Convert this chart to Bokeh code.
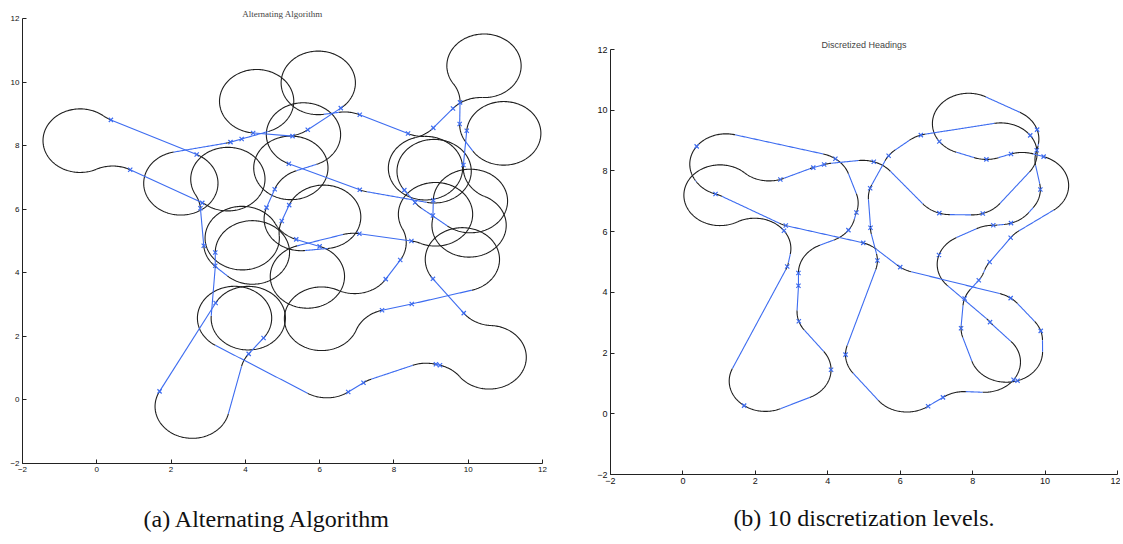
import math
import numpy as np
from bokeh.plotting import figure
from bokeh.layouts import row, column
from bokeh.models import FixedTicker, Spacer
from bokeh.embed import file_html
from bokeh.resources import INLINE

# ---------------- data: waypoint instance (shared by both panels) ----------------
wx = [0.38, 0.90, 2.84, 2.79, 2.88, 3.19, 3.19, 3.20, 1.69, 4.09,
      4.49, 6.77, 7.18, 9.13, 9.24, 9.88, 9.05, 8.48, 7.68, 7.78,
      8.17, 8.47, 7.07, 5.37, 6.00, 4.98, 5.18, 4.57, 4.79, 5.17,
      7.08, 8.28, 8.57, 9.06, 9.05, 9.87, 9.96, 9.77, 9.78, 9.59,
      9.06, 8.38, 7.08, 6.57, 5.68, 5.27, 4.21, 3.90, 3.60, 2.69]
wy = [8.81, 7.24, 6.20, 6.03, 4.85, 4.64, 4.22, 3.05, 0.27, 1.45,
      1.95, 0.25, 0.54, 1.12, 1.09, 2.73, 3.81, 3.02, 2.82, 3.80,
      4.40, 5.00, 5.23, 5.05, 4.83, 5.63, 6.13, 6.05, 6.63, 7.43,
      6.61, 6.60, 6.21, 6.28, 5.80, 7.39, 8.47, 8.68, 9.36, 9.17,
      8.56, 8.38, 8.97, 9.18, 8.50, 8.30, 8.40, 8.21, 8.11, 7.72]

# (a) tour order used by the alternating algorithm (odd edges are straight)
order_a = [0, 1, 2, 3, 4, 5, 6, 7, 8, 9, 10, 11, 12, 13, 14, 15, 16, 17, 18, 19,
           20, 21, 22, 24, 23, 25, 26, 27, 28, 29, 30, 31, 32, 33, 34, 35, 36, 37, 38, 39,
           40, 41, 42, 43, 44, 45, 46, 47, 48, 49]

# (b) tour order of the discretized-headings solution
order_b = [31, 30, 45, 47, 48, 49, 3, 4, 8, 9, 7, 6, 5, 27, 28, 46, 0, 1, 2, 25,
           24, 16, 15, 14, 18, 19, 20, 21, 34, 36, 40, 41, 42, 38, 37, 35, 33, 32, 22, 17,
           13, 12, 11, 10, 23, 26, 29, 44, 43, 39]
heading_step_deg = 18    # spacing of the candidate headings of panel (b)

turn_radius = 1.0
ticks = [-2, 0, 2, 4, 6, 8, 10, 12]

ARC_COLOR = "#1e1e1e"
LINE_COLOR = "#3d6cf0"

TWO_PI = 2 * math.pi


# ---------------- Dubins geometry ----------------
def mod2pi(a):
    return a % TWO_PI


def best_word(alpha, beta, d):
    sa, sb, ca, cb = math.sin(alpha), math.sin(beta), math.cos(alpha), math.cos(beta)
    c_ab = math.cos(alpha - beta)
    res = []
    p_sq = 2 + d * d - 2 * c_ab + 2 * d * (sa - sb)
    if p_sq >= 0:
        t1 = math.atan2(cb - ca, d + sa - sb)
        res.append(("LSL", mod2pi(t1 - alpha), math.sqrt(p_sq), mod2pi(beta - t1)))
    p_sq = 2 + d * d - 2 * c_ab + 2 * d * (sb - sa)
    if p_sq >= 0:
        t1 = math.atan2(ca - cb, d - sa + sb)
        res.append(("RSR", mod2pi(alpha - t1), math.sqrt(p_sq), mod2pi(t1 - beta)))
    p_sq = -2 + d * d + 2 * c_ab + 2 * d * (sa + sb)
    if p_sq >= 0:
        p = math.sqrt(p_sq)
        t0 = math.atan2(-ca - cb, d + sa + sb) - math.atan2(-2.0, p)
        res.append(("LSR", mod2pi(t0 - alpha), p, mod2pi(t0 - mod2pi(beta))))
    p_sq = -2 + d * d + 2 * c_ab - 2 * d * (sa + sb)
    if p_sq >= 0:
        p = math.sqrt(p_sq)
        t0 = math.atan2(ca + cb, d - sa - sb) - math.atan2(2.0, p)
        res.append(("RSL", mod2pi(alpha - t0), p, mod2pi(beta - t0)))
    tmp = (6. - d * d + 2 * c_ab + 2 * d * (sa - sb)) / 8.
    if abs(tmp) <= 1:
        phi = math.atan2(ca - cb, d - sa + sb)
        p = mod2pi(TWO_PI - math.acos(tmp))
        t = mod2pi(alpha - phi + mod2pi(p / 2.))
        res.append(("RLR", t, p, mod2pi(alpha - beta - t + mod2pi(p))))
    tmp = (6. - d * d + 2 * c_ab + 2 * d * (sb - sa)) / 8.
    if abs(tmp) <= 1:
        phi = math.atan2(ca - cb, d + sa - sb)
        p = mod2pi(TWO_PI - math.acos(tmp))
        t = mod2pi(-alpha - phi + p / 2.)
        res.append(("LRL", t, p, mod2pi(mod2pi(beta) - alpha - t + mod2pi(p))))
    return min(res, key=lambda w: w[1] + w[2] + w[3])


def normalize(q0, q1, r):
    dx, dy = q1[0] - q0[0], q1[1] - q0[1]
    d = math.hypot(dx, dy) / r
    theta = mod2pi(math.atan2(dy, dx))
    return mod2pi(q0[2] - theta), mod2pi(q1[2] - theta), d


def dubins_length(q0, q1, r):
    w = best_word(*normalize(q0, q1, r))
    return r * (w[1] + w[2] + w[3])


def dubins(q0, q1, r):
    word, t, p, q = best_word(*normalize(q0, q1, r))
    segs = []
    x, y, th = 0.0, 0.0, q0[2]
    for kind, L in zip(word, (t, p, q)):
        if L < 1e-9:
            continue
        n = max(2, int(np.ceil(L / 0.03)) + 1)
        s = np.linspace(0, L, n)
        if kind == "L":
            xs = x + np.sin(th + s) - np.sin(th)
            ys = y - np.cos(th + s) + np.cos(th)
            nth = th + L
        elif kind == "R":
            xs = x - np.sin(th - s) + np.sin(th)
            ys = y + np.cos(th - s) - np.cos(th)
            nth = th - L
        else:
            xs = x + np.cos(th) * s
            ys = y + np.sin(th) * s
            nth = th
        segs.append((kind, list(q0[0] + r * xs), list(q0[1] + r * ys)))
        x, y, th = float(xs[-1]), float(ys[-1]), nth
    return segs


def collect(segments):
    arcs_x, arcs_y, lin_x, lin_y = [], [], [], []
    for kind, xs, ys in segments:
        if kind == "S":
            lin_x.append(xs); lin_y.append(ys)
        else:
            arcs_x.append(xs); arcs_y.append(ys)
    return arcs_x, arcs_y, lin_x, lin_y


# ---- panel (a): alternating algorithm
n = len(order_a)
head_a = {}
for k in range(1, n, 2):
    a, b = order_a[k], order_a[(k + 1) % n]
    h = math.atan2(wy[b] - wy[a], wx[b] - wx[a])
    head_a[a] = h
    head_a[b] = h
segs_a = []
for k in range(n):
    a, b = order_a[k], order_a[(k + 1) % n]
    if k % 2 == 1:
        segs_a.append(("S", [wx[a], wx[b]], [wy[a], wy[b]]))
    else:
        segs_a += dubins((wx[a], wy[a], head_a[a]), (wx[b], wy[b], head_a[b]), turn_radius)

# ---- panel (b): headings chosen on a discrete grid (shortest closed tour, DP)
m = len(order_b)
n_cand = int(round(360 / heading_step_deg))
levels = [math.radians(heading_step_deg * i) for i in range(n_cand)]
cost = []
for k in range(m):
    a, b = order_b[k], order_b[(k + 1) % m]
    cost.append([[dubins_length((wx[a], wy[a], hi), (wx[b], wy[b], hj), turn_radius)
                  for hj in levels] for hi in levels])
best_total, best_seq = float("inf"), None
for i0 in range(n_cand):
    dp = [float("inf")] * n_cand
    dp[i0] = 0.0
    back = []
    for k in range(m):
        ck = cost[k]
        new, arg = [], []
        for j in range(n_cand):
            bv, bi = float("inf"), 0
            for i in range(n_cand):
                v = dp[i] + ck[i][j]
                if v < bv:
                    bv, bi = v, i
            new.append(bv); arg.append(bi)
        back.append(arg)
        dp = new
    if dp[i0] < best_total:
        hs = [0] * m
        hs[0] = i0
        j = i0
        for k in range(m - 1, 0, -1):
            j = back[k][j]          # heading level of node k
            hs[k] = j
        best_total, best_seq = dp[i0], hs

segs_b = []
for k in range(m):
    a, b = order_b[k], order_b[(k + 1) % m]
    ha, hb = levels[best_seq[k]], levels[best_seq[(k + 1) % m]]
    segs_b += dubins((wx[a], wy[a], ha), (wx[b], wy[b], hb), turn_radius)


def make_panel(segs, frame_w, frame_h, bl, br, bt, bb, tick_font, tick_size,
               top_title, top_font, top_size, cap_text, cap_standoff):
    p = figure(frame_width=frame_w, frame_height=frame_h, x_range=(-2, 12), y_range=(-2, 12),
               output_backend="svg", toolbar_location=None, title=top_title,
               min_border_left=bl, min_border_right=br, min_border_top=bt, min_border_bottom=bb)
    p.title.align = "center"
    p.title.text_font = top_font
    p.title.text_font_size = top_size
    p.title.text_font_style = "normal"
    p.title.standoff = 0
    for ax in (p.xaxis[0], p.yaxis[0]):
        ax.ticker = FixedTicker(ticks=ticks)
        ax.major_tick_in = 4
        ax.major_tick_out = 0
        ax.minor_tick_in = 0
        ax.minor_tick_out = 0
        ax.major_label_text_font = tick_font
        ax.major_label_text_font_size = tick_size
        ax.major_label_text_color = "#111111"
        ax.axis_line_color = "#222222"
        ax.major_tick_line_color = "#222222"
        ax.major_label_standoff = 3
    p.xaxis.axis_label = cap_text
    p.xaxis.axis_label_text_font = "Liberation Serif"
    p.xaxis.axis_label_text_font_size = "24px"
    p.xaxis.axis_label_text_font_style = "normal"
    p.xaxis.axis_label_text_color = "#111111"
    p.xaxis.axis_label_standoff = cap_standoff
    p.xgrid.visible = False
    p.ygrid.visible = False
    p.outline_line_color = None
    ax_, ay_, lx_, ly_ = collect(segs)
    p.multi_line(ax_, ay_, line_color=ARC_COLOR, line_width=1.1)
    p.multi_line(lx_, ly_, line_color=LINE_COLOR, line_width=1.1)
    p.scatter(wx, wy, marker="x", size=6, line_color=LINE_COLOR, line_width=1.2)
    return p


p1 = make_panel(segs_a, 520, 445, 22, 32, 18, 77, "Liberation Sans", "8px",
                "Alternating Algorithm", "Liberation Serif", "9px",
                "(a) Alternating Algorithm\u00a0\u00a0\u00a0\u00a0\u00a0", 31)
p2 = make_panel(segs_b, 507, 425, 36, 3, 18, 66, "Liberation Sans", "9px",
                "Discretized Headings", "Liberation Sans", "9px",
                "(b) 10 discretization levels.", 18)

layout = row(column(p1), column(Spacer(height=31, width=10), p2))
open("out.html", "w").write(file_html(layout, INLINE))
